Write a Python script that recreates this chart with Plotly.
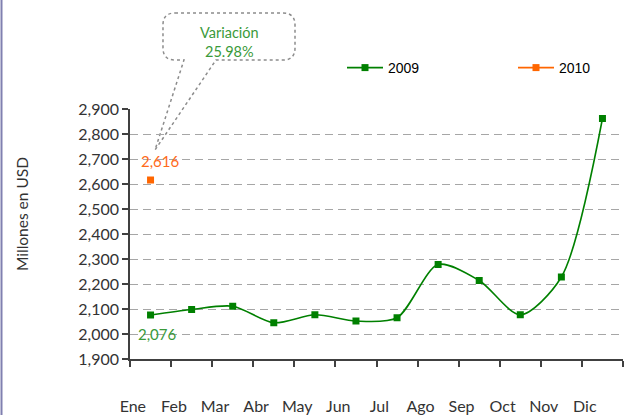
import plotly.graph_objects as go

months = ["Ene", "Feb", "Mar", "Abr", "May", "Jun", "Jul", "Ago", "Sep", "Oct", "Nov", "Dic"]
values_2009 = [2076, 2098, 2111, 2045, 2077, 2052, 2065, 2278, 2214, 2077, 2228, 2862]
values_2010 = [2616]
variation_label = "Variación<br>25.98%"
y_title = "Millones en USD"
y_ticks = list(range(1900, 3000, 100))

x_pos = list(range(len(months)))

# plot area pixel geometry helpers (for decorative shapes only)
L, R, T, B = 130, 623, 109, 359
W, H = 624, 415
def px(x):
    return (x - L) / (R - L)
def py(y):
    return (B - y) / (B - T)

fig = go.Figure()
fig.add_trace(go.Scatter(
    x=x_pos, y=values_2009, name="2009", mode="lines+markers", legend="legend",
    line=dict(color="#008000", width=1.6, shape="spline", smoothing=0.8),
    marker=dict(symbol="square", size=7, color="#008000"),
))
fig.add_trace(go.Scatter(
    x=x_pos[:len(values_2010)], y=values_2010, name="2010", mode="lines+markers", legend="legend2",
    line=dict(color="#ff6600", width=1.6),
    marker=dict(symbol="square", size=7, color="#ff6600"),
))
# invisible trace for the secondary (label) x-axis
fig.add_trace(go.Scatter(x=x_pos, y=values_2009, xaxis="x2", mode="none",
                         showlegend=False, hoverinfo="skip"))

fam = "Lato, 'Open Sans', sans-serif"
tickfont = dict(family=fam, size=16, color="#333333")
legfont = dict(family="Arial, Liberation Sans, sans-serif", size=14, color="#000000")

fig.update_layout(
    width=W, height=H,
    margin=dict(l=L, r=W - R, t=T, b=H - B, autoexpand=False),
    paper_bgcolor="white", plot_bgcolor="white",
    showlegend=True,
    legend=dict(x=px(342), y=py(68), yanchor="middle", xanchor="left", font=legfont,
                bgcolor="rgba(0,0,0,0)", itemwidth=36),
    legend2=dict(x=px(513), y=py(68), yanchor="middle", xanchor="left", font=legfont,
                 bgcolor="rgba(0,0,0,0)", itemwidth=36),
    xaxis=dict(range=[-0.5, len(months) - 0.5], showgrid=False, zeroline=False, automargin=False,
               showline=True, linecolor="#404040", linewidth=1.5,
               tickvals=[i - 0.5 for i in range(len(months) + 1)], ticktext=[""] * (len(months) + 1),
               ticks="outside", ticklen=6, tickcolor="#404040", tickwidth=1.5),
    xaxis2=dict(overlaying="x", matches="x", anchor="y", side="bottom", showgrid=False,
                zeroline=False, showline=False, automargin=False,
                tickvals=[i - 0.43 for i in x_pos], ticktext=months,
                ticks="outside", ticklen=33, tickcolor="rgba(0,0,0,0)", tickfont=tickfont),
    yaxis=dict(range=[1900, 2900], tickvals=y_ticks, tickformat=",", zeroline=False, automargin=False,
               showgrid=True, gridcolor="#a6a6a6", griddash="8px,5px", gridwidth=1,
               showline=True, linecolor="#404040", linewidth=1.5,
               ticks="outside", ticklen=6, tickcolor="#404040", tickwidth=1.5,
               tickfont=tickfont),
)

# y-axis title
fig.add_annotation(x=px(22), y=py(214), xref="paper", yref="paper", text=y_title, textangle=-90,
                   showarrow=False, xanchor="center", yanchor="middle",
                   font=dict(family=fam, size=15.5, color="#333333"))

# data labels
fig.add_annotation(x=x_pos[0], y=values_2009[0], text=f"{values_2009[0]:,}", showarrow=False,
                   yshift=-19, xshift=7, font=dict(family=fam, size=15, color="#3a9a3a"))
fig.add_annotation(x=x_pos[0], y=values_2010[0], text=f"{values_2010[0]:,}", showarrow=False,
                   yshift=19, xshift=10, font=dict(family=fam, size=15, color="#ff6a1a"))

# callout bubble
x0, x1, y0, y1, r = 163, 295, 13, 60, 12
tip = (155, 150)
t1, t2 = 184, 216
pts = [
    ("M", x0 + r, y0), ("L", x1 - r, y0), ("Q", x1, y0, x1, y0 + r), ("L", x1, y1 - r),
    ("Q", x1, y1, x1 - r, y1), ("L", t2, y1), ("L", tip[0], tip[1]), ("L", t1, y1),
    ("L", x0 + r, y1), ("Q", x0, y1, x0, y1 - r), ("L", x0, y0 + r), ("Q", x0, y0, x0 + r, y0),
]
path = ""
for p in pts:
    cmd = p[0]
    coords = p[1:]
    s = " ".join(f"{px(coords[i]):.4f},{py(coords[i+1]):.4f}" for i in range(0, len(coords), 2))
    path += f"{cmd} {s} "
path += "Z"
fig.add_shape(type="path", path=path, xref="paper", yref="paper", layer="below",
              line=dict(color="#8c8c8c", width=1.5, dash="dot"), fillcolor="rgba(0,0,0,0)")
fig.add_annotation(x=px(229), y=py(42), xref="paper", yref="paper", text=variation_label,
                   showarrow=False, xanchor="center", yanchor="middle",
                   font=dict(family=fam, size=14.5, color="#3a9a3a"))

# left border line
fig.add_shape(type="line", xref="paper", yref="paper", x0=px(1.5), x1=px(1.5), y0=py(0), y1=py(H),
              line=dict(color="#8080b0", width=2))

fig.write_html("out.html", config={"displayModeBar": False},
               post_script="document.body.style.margin='0';document.body.style.overflow='hidden';")
